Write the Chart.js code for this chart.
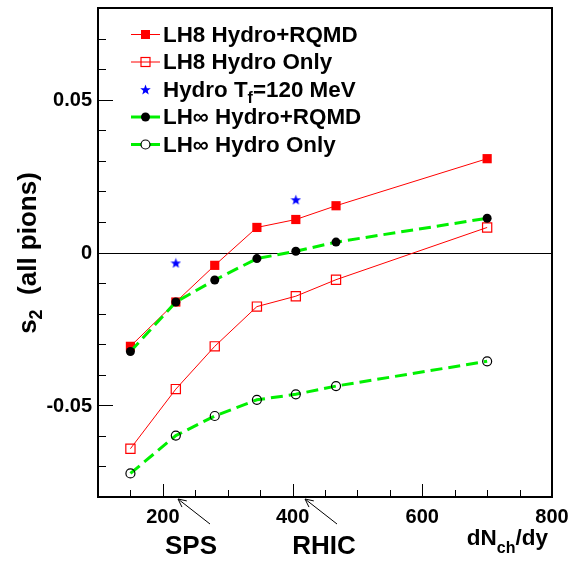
<!DOCTYPE html>
<html>
<head>
<meta charset="utf-8">
<script src="https://cdn.jsdelivr.net/npm/chart.js@4.4.1/dist/chart.umd.min.js"></script>
<style>
  html, body { margin: 0; padding: 0; background: #fff; }
  #chart { display: block; }
</style>
</head>
<body>
<canvas id="chart" width="576" height="563"></canvas>
<script>
// values
const xValues = [150, 220, 280, 345, 405, 467, 700];
const lh8Rqmd = [-0.0307, -0.0162, -0.0042, 0.0082, 0.0108, 0.0153, 0.0307];
const lh8Only = [-0.0642, -0.0447, -0.0307, -0.0177, -0.0143, -0.0089, 0.0082];
const lhInfRqmd = [-0.0324, -0.0162, -0.0090, -0.0020, 0.0004, 0.0034, 0.0112];
const lhInfOnly = [-0.0723, -0.0599, -0.0535, -0.0482, -0.0464, -0.0437, -0.0356];
const starX = [220, 405];
const starY = [-0.0034, 0.0173];

const xTickValues = [200, 400, 600, 800];
const xTickLabels = ["200", "400", "600", "800"];
const yTickValues = [-0.05, 0, 0.05];
const yTickLabels = ["-0.05", "0", "0.05"];

const RED = "#ff0000";
const GREEN = "#00f000";
const BLUE = "#0000ff";
const FONT = '"Liberation Sans", Arial, Helvetica, sans-serif';

function starImage(size, color) {
    const c = document.createElement("canvas");
    c.width = size;
    c.height = size;
    const g = c.getContext("2d");
    const cx = size / 2, cy = size / 2 + 0.5, R = size / 2, r = R * 0.42;
    g.fillStyle = color;
    g.beginPath();
    for (let i = 0; i < 10; i++) {
        const a = -Math.PI / 2 + i * Math.PI / 5;
        const rr = i % 2 ? r : R;
        g.lineTo(cx + rr * Math.cos(a), cy + rr * Math.sin(a));
    }
    g.closePath();
    g.fill();
    return c;
}
const star = starImage(11, BLUE);

function pts(xs, ys) {
    return xs.map((x, i) => ({ x: x, y: ys[i] }));
}

// text with optional subscript parts: [[text, isSub], ...]
function drawRich(ctx, parts, x, y, size, subDrop) {
    let cx = x;
    parts.forEach(([t, sub]) => {
        const s = sub ? Math.round(size * 0.7) : size;
        ctx.font = "bold " + s + "px " + FONT;
        ctx.fillText(t, cx, sub ? y + subDrop : y);
        cx += ctx.measureText(t).width;
    });
    return cx - x;
}
function richWidth(ctx, parts, size) {
    let w = 0;
    parts.forEach(([t, sub]) => {
        const s = sub ? Math.round(size * 0.7) : size;
        ctx.font = "bold " + s + "px " + FONT;
        w += ctx.measureText(t).width;
    });
    return w;
}

function marker(ctx, kind, x, y) {
    ctx.save();
    if (kind === "rectFill") {
        ctx.fillStyle = RED;
        ctx.fillRect(x - 4.5, y - 4.5, 9, 9);
    } else if (kind === "rectOpen") {
        ctx.strokeStyle = RED;
        ctx.lineWidth = 1.2;
        ctx.strokeRect(x - 4.5, y - 4.5, 9, 9);
    } else if (kind === "star") {
        ctx.drawImage(star, x - 5.5, y - 5.5);
    } else if (kind === "circFill") {
        ctx.fillStyle = "#000";
        ctx.beginPath(); ctx.arc(x, y, 4.5, 0, Math.PI * 2); ctx.fill();
    } else {
        ctx.fillStyle = "#fff";
        ctx.strokeStyle = "#000";
        ctx.lineWidth = 1.2;
        ctx.beginPath(); ctx.arc(x, y, 4.5, 0, Math.PI * 2); ctx.fill(); ctx.stroke();
    }
    ctx.restore();
}

const legendRows = [
    { parts: [["LH8 Hydro+RQMD"]], line: RED, width: 1, mark: "rectFill" },
    { parts: [["LH8 Hydro Only"]], line: RED, width: 1, mark: "rectOpen" },
    { parts: [["Hydro T"], ["f", true], ["=120 MeV"]], line: null, width: 0, mark: "star" },
    { parts: [["LH\u221E Hydro+RQMD"]], line: GREEN, width: 3, mark: "circFill" },
    { parts: [["LH\u221E Hydro Only"]], line: GREEN, width: 3, mark: "circOpen" },
];

function arrow(ctx, x1, y1, x2, y2) {
    const ang = Math.atan2(y2 - y1, x2 - x1);
    const L = 9, spread = 0.45;
    ctx.beginPath();
    ctx.moveTo(x1, y1);
    ctx.lineTo(x2, y2);
    ctx.moveTo(x2 - L * Math.cos(ang - spread), y2 - L * Math.sin(ang - spread));
    ctx.lineTo(x2, y2);
    ctx.lineTo(x2 - L * Math.cos(ang + spread), y2 - L * Math.sin(ang + spread));
    ctx.stroke();
}

const rootFrame = {
    id: "rootFrame",
    beforeDatasetsDraw(chart) {
        const { ctx, chartArea: a, scales: { y } } = chart;
        const y0 = Math.round(y.getPixelForValue(0)) + 0.5;
        ctx.save();
        ctx.strokeStyle = "#000";
        ctx.lineWidth = 1;
        ctx.beginPath();
        ctx.moveTo(a.left, y0);
        ctx.lineTo(a.right, y0);
        ctx.stroke();
        ctx.restore();
    },
    afterDatasetsDraw(chart) {
        const { ctx, chartArea: a, scales: { x, y } } = chart;
        ctx.save();
        ctx.strokeStyle = "#000";
        ctx.lineWidth = 1;
        ctx.beginPath();
        // x ticks (every 50, major every 200)
        for (let v = 150; v < 800; v += 50) {
            const px = Math.round(x.getPixelForValue(v)) + 0.5;
            const len = v % 200 === 0 ? 13 : 7;
            ctx.moveTo(px, a.bottom);
            ctx.lineTo(px, a.bottom - len);
        }
        // y ticks (every 0.01, major every 0.05)
        for (let k = -7; k <= 7; k++) {
            const py = Math.round(y.getPixelForValue(k / 100)) + 0.5;
            const len = k % 5 === 0 ? 15 : 8;
            ctx.moveTo(a.left, py);
            ctx.lineTo(a.left + len, py);
        }
        ctx.stroke();
        ctx.lineWidth = 2;
        ctx.strokeRect(a.left, a.top, a.right - a.left, a.bottom - a.top);

        // tick labels
        ctx.fillStyle = "#000";
        ctx.font = "bold 20px " + FONT;
        ctx.textAlign = "center";
        ctx.textBaseline = "alphabetic";
        xTickValues.forEach((v, i) => {
            ctx.fillText(xTickLabels[i], x.getPixelForValue(v), 523);
        });
        ctx.textAlign = "right";
        ctx.textBaseline = "middle";
        yTickValues.forEach((v, i) => {
            ctx.fillText(yTickLabels[i], 92, y.getPixelForValue(v) + 1);
        });
        ctx.restore();
    },
    afterDraw(chart) {
        const { ctx } = chart;
        ctx.save();
        ctx.fillStyle = "#000";
        ctx.strokeStyle = "#000";
        ctx.textBaseline = "alphabetic";
        ctx.textAlign = "left";

        // x title
        const xt = [["dN"], ["ch", true], ["/dy"]];
        drawRich(ctx, xt, 548 - richWidth(ctx, xt, 22.5), 545, 22.5, 8);

        // y title, rotated
        ctx.save();
        ctx.translate(36, 253);
        ctx.rotate(-Math.PI / 2);
        const yt = [["s"], ["2", true], ["  (all pions)"]];
        drawRich(ctx, yt, -richWidth(ctx, yt, 26) / 2, 0, 26, 6);
        ctx.restore();

        // SPS / RHIC labels with arrows
        ctx.textAlign = "center";
        ctx.font = "bold 26px " + FONT;
        ctx.fillText("SPS", 191, 554);
        ctx.fillText("RHIC", 324, 554);
        ctx.lineWidth = 1;
        arrow(ctx, 210, 524, 178, 499);
        arrow(ctx, 337, 524, 305, 499);

        // legend
        ctx.textAlign = "left";
        legendRows.forEach((row, i) => {
            const base = 41.5 + i * 27.5;
            const my = base - 7;
            if (row.line) {
                ctx.save();
                ctx.strokeStyle = row.line;
                ctx.lineWidth = row.width;
                ctx.beginPath();
                ctx.moveTo(131, my);
                ctx.lineTo(160, my);
                ctx.stroke();
                ctx.restore();
            }
            marker(ctx, row.mark, 145.5, my);
            ctx.fillStyle = "#000";
            drawRich(ctx, row.parts, 163, base, 22.4, 6);
        });
        ctx.restore();
    },
};

new Chart(document.getElementById("chart"), {
    type: "scatter",
    data: {
        datasets: [
            {
                label: "LH8 Hydro+RQMD",
                data: pts(xValues, lh8Rqmd),
                showLine: true,
                borderColor: RED,
                borderWidth: 1,
                pointStyle: "rect",
                pointRadius: 6.5,
                pointBackgroundColor: RED,
                pointBorderColor: RED,
                pointBorderWidth: 0,
                order: 5,
            },
            {
                label: "LH8 Hydro Only",
                data: pts(xValues, lh8Only),
                showLine: true,
                borderColor: RED,
                borderWidth: 1,
                pointStyle: "rect",
                pointRadius: 6.5,
                pointBackgroundColor: "rgba(0,0,0,0)",
                pointBorderColor: RED,
                pointBorderWidth: 1.2,
                order: 4,
            },
            {
                label: "Hydro Tf=120 MeV",
                data: pts(starX, starY),
                showLine: false,
                pointStyle: star,
                pointRadius: 5,
                order: 3,
            },
            {
                label: "LH\u221E Hydro+RQMD",
                data: pts(xValues, lhInfRqmd),
                showLine: true,
                borderColor: GREEN,
                borderWidth: 3,
                borderDash: [12, 6],
                pointStyle: "circle",
                pointRadius: 4.5,
                pointBackgroundColor: "#000",
                pointBorderColor: "#000",
                pointBorderWidth: 0,
                order: 2,
            },
            {
                label: "LH\u221E Hydro Only",
                data: pts(xValues, lhInfOnly),
                showLine: true,
                borderColor: GREEN,
                borderWidth: 3,
                borderDash: [12, 6],
                pointStyle: "circle",
                pointRadius: 4.5,
                pointBackgroundColor: "rgba(0,0,0,0)",
                pointBorderColor: "#000",
                pointBorderWidth: 1.2,
                order: 1,
            },
        ],
    },
    options: {
        responsive: false,
        animation: false,
        devicePixelRatio: 1,
        layout: { padding: { left: 98, right: 24, top: 8, bottom: 66 } },
        elements: { line: { tension: 0 } },
        plugins: { legend: { display: false }, tooltip: { enabled: false } },
        scales: {
            x: { type: "linear", min: 100, max: 800, display: false },
            y: { type: "linear", min: -0.08, max: 0.08, display: false },
        },
    },
    plugins: [rootFrame],
});
</script>
</body>
</html>
